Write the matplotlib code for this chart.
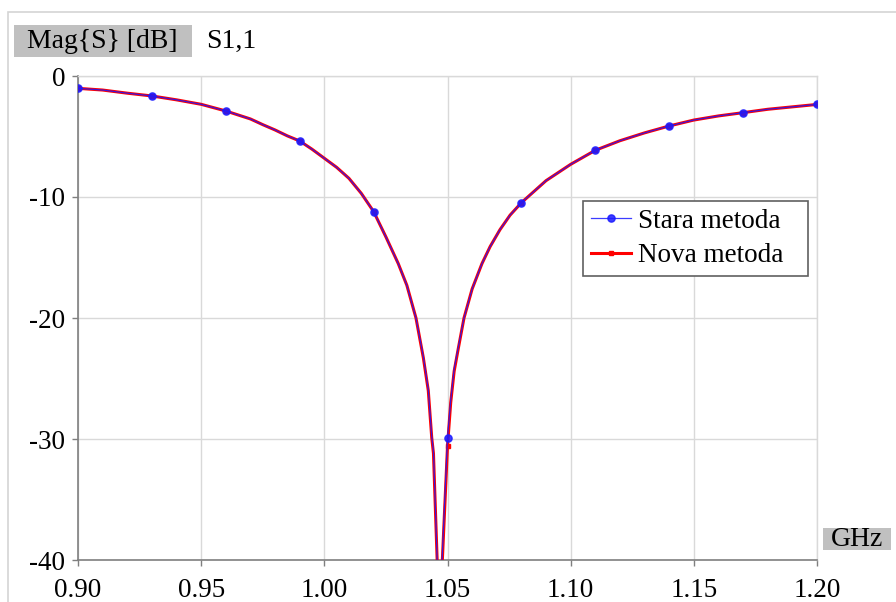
import numpy as np
import matplotlib
matplotlib.use("Agg")
import matplotlib.pyplot as plt
from matplotlib.patches import Rectangle

# Frequency sweep (GHz) and |S11| in dB for both methods
freq_ghz = [0.90, 0.91, 0.92, 0.93, 0.94, 0.95, 0.96, 0.97, 0.975, 0.98, 0.985,
            0.99, 0.995, 1.00, 1.005, 1.01, 1.015, 1.02, 1.025, 1.03, 1.0335,
            1.0372, 1.0402, 1.0422, 1.0436, 1.0443, 1.0458, 1.0467, 1.0478,
            1.05, 1.0513, 1.0527, 1.0544, 1.0567, 1.06, 1.064, 1.0673, 1.0713,
            1.0754, 1.08, 1.09, 1.10, 1.11, 1.12, 1.13, 1.14, 1.15, 1.16, 1.17,
            1.18, 1.19, 1.20]

s11_stara = [-1.02, -1.16, -1.42, -1.65, -1.97, -2.34, -2.89, -3.55, -4.02, -4.46,
             -4.95, -5.37, -6.05, -6.8, -7.55, -8.46, -9.7, -11.2, -13.3, -15.5,
             -17.3, -20.0, -23.2, -25.9, -29.8, -31.0, -40.0, -48.0, -40.0,
             -29.9, -26.8, -24.2, -22.4, -20.0, -17.6, -15.5, -14.1, -12.7,
             -11.5, -10.47, -8.65, -7.3, -6.14, -5.35, -4.7, -4.13, -3.64, -3.3,
             -3.03, -2.75, -2.55, -2.35]

s11_nova = [-1.02, -1.16, -1.42, -1.65, -1.97, -2.34, -2.89, -3.55, -4.02, -4.46,
            -4.95, -5.37, -6.05, -6.8, -7.55, -8.46, -9.7, -11.2, -13.3, -15.5,
            -17.3, -20.0, -23.3, -26.0, -29.9, -31.2, -40.0, -49.0, -40.5,
            -30.6, -27.0, -24.4, -22.5, -20.0, -17.6, -15.5, -14.1, -12.7,
            -11.5, -10.47, -8.65, -7.3, -6.14, -5.35, -4.7, -4.13, -3.64, -3.3,
            -3.03, -2.75, -2.55, -2.35]

marker_freqs = [0.90, 0.93, 0.96, 0.99, 1.02, 1.05, 1.08, 1.11, 1.14, 1.17, 1.20]

series_names = ["Stara metoda", "Nova metoda"]
x_ticks = [0.90, 0.95, 1.00, 1.05, 1.10, 1.15, 1.20]
y_ticks = [-40, -30, -20, -10, 0]

plt.rcParams['font.family'] = ['Liberation Serif', 'DejaVu Serif']

W, H = 896, 602
fig = plt.figure(figsize=(W / 100, H / 100), dpi=100)
fig.patch.set_facecolor('white')


def fx(px):
    return px / W


def fy(py):
    return 1 - py / H


# Outer frame of the graph window (runs off the right and bottom edges)
fig.patches.append(Rectangle((fx(8), fy(900)), 2.0, (900 - 12) / H,
                             transform=fig.transFigure, fill=False,
                             edgecolor='#d4d4d4', linewidth=1.2))

ax = fig.add_axes([fx(78), fy(560), fx(817) - fx(78), fy(76) - fy(560)])

freq_arr = np.array(freq_ghz)
mk_idx = [int(np.argmin(np.abs(freq_arr - m))) for m in marker_freqs]

ax.plot(freq_ghz, s11_nova, color='#ff0000', linewidth=2.2, marker='s',
        markersize=3.5, markevery=mk_idx, label=series_names[1], zorder=3)
ax.plot(freq_ghz, s11_stara, color='#1a1aff', linewidth=0.9, marker='o',
        markersize=5.2, markevery=mk_idx, label=series_names[0], zorder=4,
        alpha=0.85)

ax.set_xlim(0.90, 1.20)
ax.set_ylim(-40, 0)
ax.set_xticks(x_ticks)
ax.set_xticklabels([f"{v:.2f}" for v in x_ticks])
ax.set_yticks(y_ticks)
ax.set_yticklabels([str(v) for v in y_ticks])
ax.grid(True, color='#d9d9d9', linewidth=1.0)
ax.set_axisbelow(True)

for side in ['left', 'bottom']:
    ax.spines[side].set_color('#7f7f7f')
    ax.spines[side].set_linewidth(1.2)
for side in ['top', 'right']:
    ax.spines[side].set_color('#d9d9d9')
    ax.spines[side].set_linewidth(1.0)

ax.tick_params(axis='both', labelsize=19.5, length=4, width=1, color='#7f7f7f',
               direction='out')
ax.tick_params(axis='x', pad=9)
ax.tick_params(axis='y', pad=5)

handles, labels = ax.get_legend_handles_labels()
leg_box = (fx(583), fy(280), fx(808) - fx(583), fy(201) - fy(280))
leg = ax.legend(handles[::-1], labels[::-1], loc='upper left',
                bbox_to_anchor=leg_box, bbox_transform=fig.transFigure,
                mode='expand', borderaxespad=0, fontsize=19.5, frameon=True,
                fancybox=False, edgecolor='#606060', framealpha=1,
                handlelength=1.5, handletextpad=0.25, borderpad=0.28,
                labelspacing=0.35)
leg.get_frame().set_linewidth(1.2)

# Axis captions in grey boxes
fig.patches.append(Rectangle((fx(14), fy(57)), fx(192) - fx(14), fy(25) - fy(57),
                             transform=fig.transFigure, facecolor='#c0c0c0',
                             edgecolor='none'))
fig.text(fx(102), fy(41), "Mag{S} [dB]", fontsize=20, ha='center', va='center')
fig.text(fx(206), fy(41), "S1,1", fontsize=20, ha='left', va='center')

fig.patches.append(Rectangle((fx(823), fy(550)), fx(891) - fx(823), fy(528) - fy(550),
                             transform=fig.transFigure, facecolor='#c0c0c0',
                             edgecolor='none'))
fig.text(fx(857), fy(539), "GHz", fontsize=20, ha='center', va='center')

fig.savefig("out.png", dpi=100)
